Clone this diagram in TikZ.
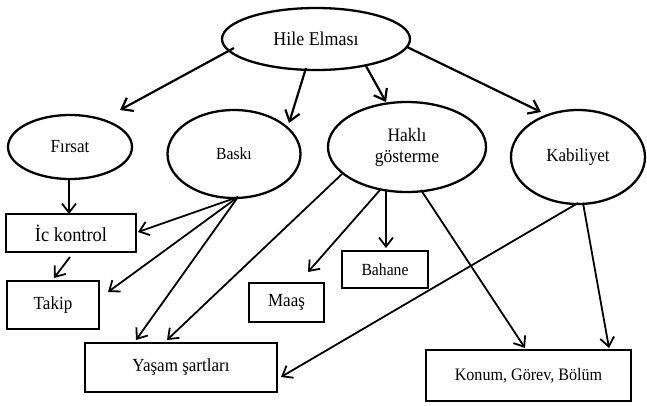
\documentclass[tikz,border=0pt]{standalone}
\usepackage{fontspec}
\setmainfont{Liberation Serif}[FakeStretch=0.92]
\usetikzlibrary{arrows.meta,shapes.geometric}
\begin{document}
\begin{tikzpicture}[x=1pt,y=1pt,
  ell/.style={draw,ellipse,line width=2.3pt,inner sep=0pt,align=center},
  box/.style={draw,rectangle,line width=2.2pt,inner sep=0pt},
  arr/.style={line width=2.2pt,-{Straight Barb[length=10pt,width=15pt,line width=2.2pt]}},
  arrs/.style={line width=1.8pt,-{Straight Barb[length=9pt,width=14pt,line width=1.8pt]}},
  fs/.style={font=\fontsize{#1}{21}\selectfont}
]
\useasboundingbox (0,0) rectangle (647,-405);
% ellipses
\node[ell,fs=19.5,minimum width=188,minimum height=62] (hile) at (316,-39) {Hile Elması};
\node[ell,fs=18.5,minimum width=124,minimum height=64] (firsat) at (70,-147) {Fırsat};
\node[ell,fs=17,minimum width=133,minimum height=88] (baski) at (234,-154) {Baskı};
\node[ell,fs=19,minimum width=158,minimum height=90] (hakli) at (407,-147) {Haklı\\gösterme};
\node[ell,fs=18.5,minimum width=134,minimum height=94] (kab) at (578,-157) {Kabiliyet};
% boxes
\node[box,fs=20,minimum width=130,minimum height=38] (ic) at (71,-233) {İc kontrol};
\node[box,fs=18.5,minimum width=92,minimum height=48] (takip) at (53,-305) {Takip};
\node[box,fs=18.5,minimum width=192,minimum height=49] (yasam) at (181,-367.5) {Yaşam şartları};
\node[box,fs=18.5,minimum width=75,minimum height=39] (maas) at (286.5,-302.5) {Maaş};
\node[box,fs=17,minimum width=86,minimum height=37] (bahane) at (385,-269.5) {Bahane};
\node[box,fs=17.5,minimum width=205,minimum height=51] (konum) at (528.5,-375.5) {Konum, Görev, Bölüm};
% arrows from top
\draw[arr] ([shift={(-82,-9)}]hile.center) -- ([shift={(50,37)}]firsat.center);
\draw[arr] ([shift={(-10,-29)}]hile.center) -- ([shift={(55,31)}]baski.center);
\draw[arr] ([shift={(50,-27)}]hile.center) -- ([shift={(-21,45)}]hakli.center);
\draw[arr] ([shift={(91,-8)}]hile.center) -- ([shift={(-37,45)}]kab.center);
% lower arrows
\draw[arrs] ([shift={(-1,-32)}]firsat.center) -- ([shift={(-2,19)}]ic.center);
\draw[arrs] ([shift={(4,-43)}]baski.center) -- ([shift={(67,1)}]ic.center);
\draw[arrs] ([shift={(4,-43)}]baski.center) -- ([shift={(55,13)}]takip.center);
\draw[arrs] ([shift={(4,-43)}]baski.center) -- ([shift={(-45,27.5)}]yasam.center);
\draw[arrs] ([shift={(-65,-27)}]hakli.center) -- ([shift={(-14,27.5)}]yasam.center);
\draw[arrs] ([shift={(-1,-24)}]ic.center) -- ([shift={(1,27)}]takip.center);
\draw[arrs] ([shift={(-27,-43)}]hakli.center) -- ([shift={(21.5,30.5)}]maas.center);
\draw[arrs] ([shift={(-21,-43)}]hakli.center) -- ([shift={(1,21.5)}]bahane.center);
\draw[arrs] ([shift={(14,-43)}]hakli.center) -- ([shift={(-3.5,27.5)}]konum.center);
\draw[arrs] ([shift={(0,-46)}]kab.center) -- ([shift={(100,-9.5)}]yasam.center);
\draw[arrs] ([shift={(5,-46)}]kab.center) -- ([shift={(80.5,27.5)}]konum.center);
\end{tikzpicture}
\end{document}
